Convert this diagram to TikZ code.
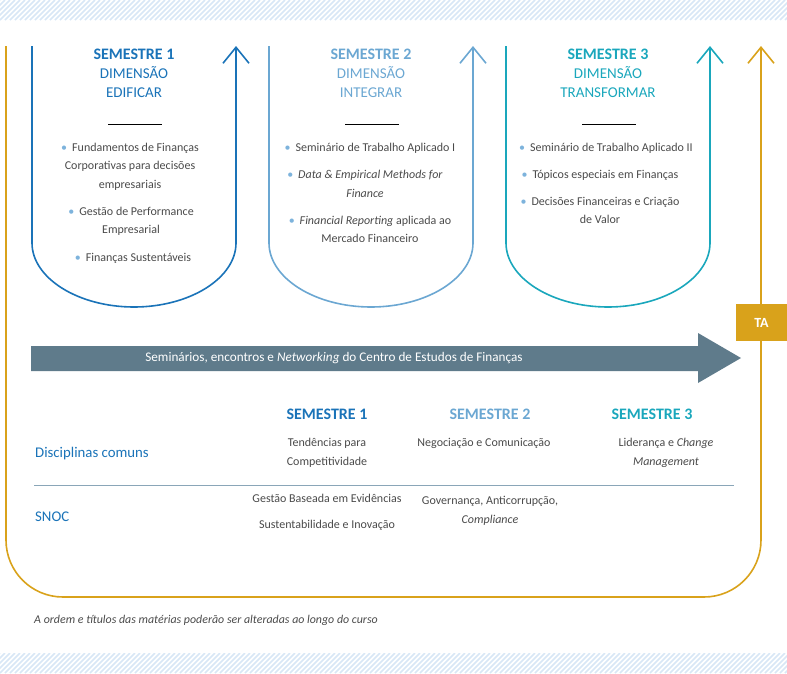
\documentclass[tikz,border=0pt]{standalone}
\usepackage{fontspec}
\setmainfont{Carlito}
\usetikzlibrary{arrows.meta,positioning}

\definecolor{semA}{HTML}{1A73B8}
\definecolor{semB}{HTML}{6BA7D2}
\definecolor{semC}{HTML}{1AA7BC}
\definecolor{gold}{HTML}{D9A21B}
\definecolor{slate}{HTML}{5F7B8B}
\definecolor{txt}{HTML}{4A4A4A}
\definecolor{bulc}{HTML}{7DB3DC}
\definecolor{hatchc}{HTML}{D8E7F6}
\definecolor{rulec}{HTML}{8AA6B8}

\newcommand{\itemdot}{{\color{bulc}\textbullet}\hspace{5pt}}

\tikzset{
  semhead/.style={font=\fontsize{16}{19}\selectfont\bfseries, inner sep=0},
  semdim/.style={font=\fontsize{15}{19}\selectfont, align=center, inner sep=0},
  course/.style={font=\fontsize{12}{18.5}\selectfont, text=txt, align=center, inner sep=0},
  cell/.style={font=\fontsize{12}{19}\selectfont, text=txt, align=center, inner sep=0},
  rowlabel/.style={font=\fontsize{14.8}{17}\selectfont, text=semA, anchor=west, inner sep=0},
  uline/.style={line width=1.6pt, -{Straight Barb[length=16pt,width=26pt]}}
}

\begin{document}
\begin{tikzpicture}[x=1pt,y=-1pt]
\useasboundingbox (0,0) rectangle (787,673);

% hatched bands
\begin{scope}
  \clip (0,0) rectangle (787,20);
  \foreach \x in {-30,-25,...,800} \draw[hatchc, line width=1.6pt] (\x,20) -- (\x+20,0);
\end{scope}
\begin{scope}
  \clip (0,653) rectangle (787,673);
  \foreach \x in {-30,-25,...,800} \draw[hatchc, line width=1.6pt] (\x,673) -- (\x+20,653);
\end{scope}

% outer gold frame
\draw[gold, uline] (6,46) -- (6,540) .. controls (6,571.5) and (31.5,597) .. (63,597)
  -- (704,597) .. controls (735.5,597) and (761,571.5) .. (761,540) -- (761,46);

% semester shapes
\draw[semA, uline] (32,46) -- (32,243) .. controls (32,278) and (78,307) .. (134,307)
  .. controls (190,307) and (236,278) .. (236,243) -- (236,46);
\draw[semB, uline] (269,46) -- (269,243) .. controls (269,278) and (315,307) .. (371,307)
  .. controls (427,307) and (473,278) .. (473,243) -- (473,46);
\draw[semC, uline] (506,46) -- (506,243) .. controls (506,278) and (552,307) .. (608,307)
  .. controls (664,307) and (710,278) .. (710,243) -- (710,46);

% semester 1
\node[semhead, text=semA] (s1head) at (134,54) {SEMESTRE 1};
\node[semdim, text=semA] (s1dim) at (134,82.5) {DIMENSÃO\\EDIFICAR};
\draw[line width=0.8pt] (108,124) -- (162,124);
\node[course] (s1a) at (130,166.5) {\itemdot Fundamentos de Finanças\\Corporativas para decisões\\empresariais};
\node[course] (s1b) at (131,221.5) {\itemdot Gestão de Performance\\Empresarial};
\node[course] (s1c) at (133,258) {\itemdot Finanças Sustentáveis};

% semester 2
\node[semhead, text=semB] (s2head) at (371,54) {SEMESTRE 2};
\node[semdim, text=semB] (s2dim) at (371,82.5) {DIMENSÃO\\INTEGRAR};
\draw[line width=0.8pt] (345,124) -- (399,124);
\node[course] (s2a) at (370,148) {\itemdot Seminário de Trabalho Aplicado I};
\node[course] (s2b) at (365,184) {\itemdot\textit{Data \& Empirical Methods for}\\\textit{Finance}};
\node[course] (s2c) at (370,229.5) {\itemdot\textit{Financial Reporting} aplicada ao\\Mercado Financeiro};

% semester 3
\node[semhead, text=semC] (s3head) at (608,54) {SEMESTRE 3};
\node[semdim, text=semC] (s3dim) at (608,82.5) {DIMENSÃO\\TRANSFORMAR};
\draw[line width=0.8pt] (582,124) -- (636,124);
\node[course] (s3a) at (606,148) {\itemdot Seminário de Trabalho Aplicado II};
\node[course] (s3b) at (600,175) {\itemdot Tópicos especiais em Finanças};
\node[course] (s3c) at (600,210.5) {\itemdot Decisões Financeiras e Criação\\de Valor};

% TA box
\node[fill=gold, text=white, font=\fontsize{14}{17}\selectfont\bfseries,
  minimum width=51pt, minimum height=37pt, inner sep=0] (ta) at (761.5,322.5) {TA};

% seminars arrow
\fill[slate] (31,346) -- (698,346) -- (698,333) -- (741,358) -- (698,383) -- (698,371) -- (31,371) -- cycle;
\node[font=\fontsize{13.2}{15}\selectfont, text=white, inner sep=0] (sem) at (334,358)
  {Seminários, encontros e \textit{Networking} do Centro de Estudos de Finanças};

% common courses table
\node[semhead, text=semA] (t1) at (327,414) {SEMESTRE 1};
\node[semhead, text=semB] (t2) at (490,414) {SEMESTRE 2};
\node[semhead, text=semC] (t3) at (652,414) {SEMESTRE 3};
\node[rowlabel] (common) at (35,454) {Disciplinas comuns};
\node[rowlabel] (snoc) at (35,517) {SNOC};
\draw[rulec, line width=1pt] (34,485) -- (734,485);
\node[cell] (c11) at (327,452.5) {Tendências para\\Competitividade};
\node[cell] (c12) at (484,443) {Negociação e Comunicação};
\node[cell] (c13) at (666,452.5) {Liderança e \textit{Change}\\\textit{Management}};
\node[cell] (c21) at (327,498) {Gestão Baseada em Evidências};
\node[cell] (c22) at (327,525) {Sustentabilidade e Inovação};
\node[cell] (c23) at (490,510.5) {Governança, Anticorrupção,\\\textit{Compliance}};

% note
\node[font=\fontsize{11.9}{14}\selectfont\itshape, text=txt, anchor=west, inner sep=0] (note) at (34,620)
  {A ordem e títulos das matérias poderão ser alteradas ao longo do curso};
\end{tikzpicture}
\end{document}
